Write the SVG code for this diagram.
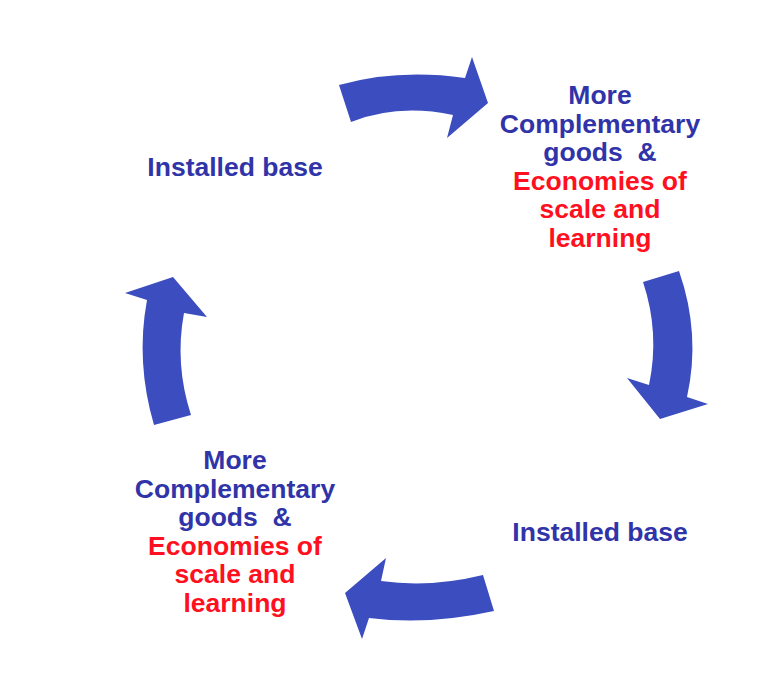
<svg xmlns="http://www.w3.org/2000/svg" width="778" height="678" viewBox="0 0 778 678">
<style>
.t{font-family:"Liberation Sans",Arial,sans-serif;font-weight:bold;font-size:26.5px;text-anchor:middle;white-space:pre}
.b{fill:#3034A8}
.r{fill:#FF1020}
.arr{fill:#3C4DC0}
</style>
<rect width="778" height="678" fill="#fff"/>
<g id="connectors">
<path class="arr" d="M339,85 Q398,68.5 465,78 L472,57 L488,103 L447,138 L453,115 Q398,103.5 351,122 Z"/>
<path class="arr" d="M643,282 L679,271 Q701,334 687,397 L708,404 L660,419 L627,378 L649,385 Q660,333 643,282 Z"/>
<path class="arr" d="M483,575 L494,611 Q428.5,625.5 369,618 L362,639 L345,593 L386,558 L381,581 Q430,588 483,575 Z"/>
<path class="arr" d="M154,425 L191,415 Q174.5,364 184,313 L207,317 L173,277 L125,293 L147,300 Q135.5,362 154,425 Z"/>
</g>
<g id="node-installed-top">
<text class="t b" x="235" y="176">Installed base</text>
</g>
<g id="node-complementary-top">
<text class="t b" x="600" y="104">More</text>
<text class="t b" x="600" y="132.5">Complementary</text>
<text class="t b" x="600" y="161">goods  &amp;</text>
<text class="t r" x="600" y="189.5">Economies of</text>
<text class="t r" x="600" y="218">scale and</text>
<text class="t r" x="600" y="246.5">learning</text>
</g>
<g id="node-installed-bottom">
<text class="t b" x="600" y="541">Installed base</text>
</g>
<g id="node-complementary-bottom">
<text class="t b" x="235" y="469">More</text>
<text class="t b" x="235" y="497.5">Complementary</text>
<text class="t b" x="235" y="526">goods  &amp;</text>
<text class="t r" x="235" y="554.5">Economies of</text>
<text class="t r" x="235" y="583">scale and</text>
<text class="t r" x="235" y="611.5">learning</text>
</g>
</svg>
